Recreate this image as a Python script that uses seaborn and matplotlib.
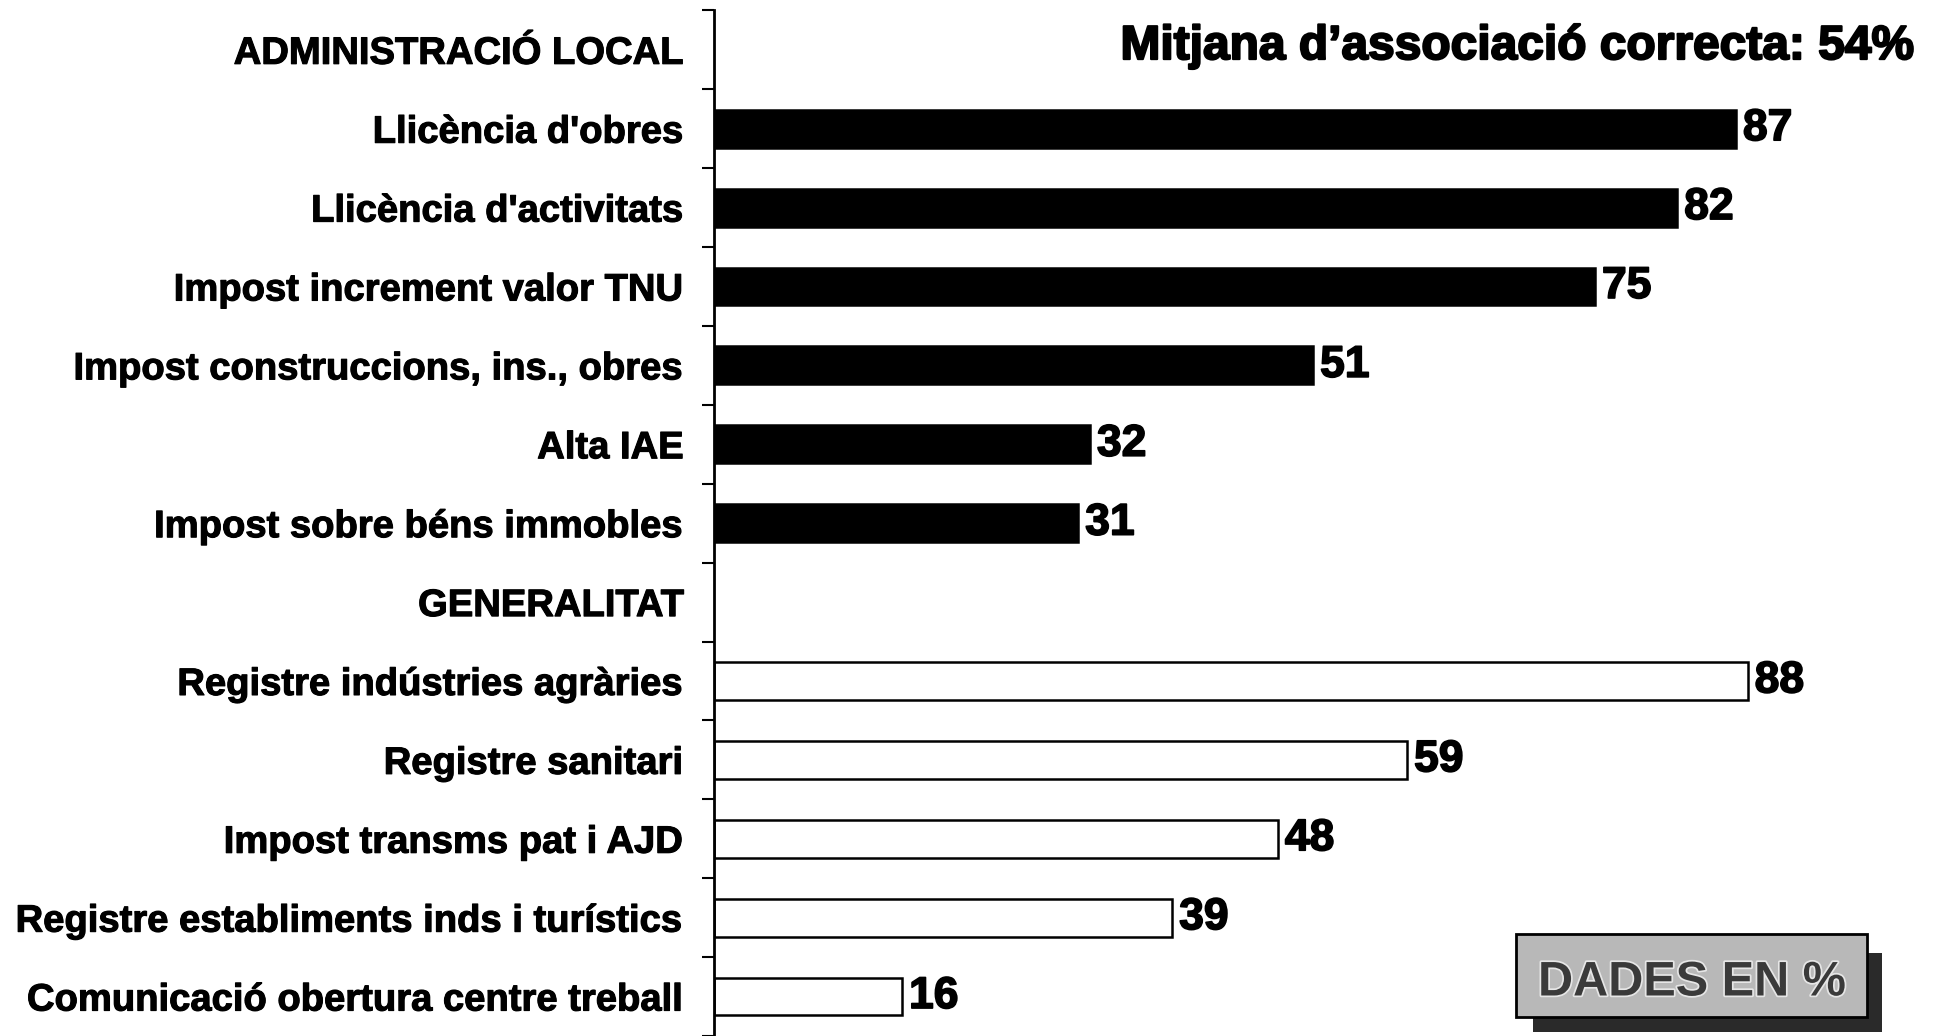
import pandas as pd
import numpy as np
import seaborn as sns
import matplotlib.pyplot as plt
import matplotlib.patheffects as pe
from matplotlib.patches import Rectangle

# data
labels = [
    "ADMINISTRACIÓ LOCAL",
    "Llicència d'obres",
    "Llicència d'activitats",
    "Impost increment valor TNU",
    "Impost construccions, ins., obres",
    "Alta IAE",
    "Impost sobre béns immobles",
    "GENERALITAT",
    "Registre indústries agràries",
    "Registre sanitari",
    "Impost transms pat i AJD",
    "Registre establiments inds i turístics",
    "Comunicació obertura centre treball",
]
values = [np.nan, 87, 82, 75, 51, 32, 31, np.nan, 88, 59, 48, 39, 16]
groups = ["local"] * 7 + ["gen"] * 6
headers = ["ADMINISTRACIÓ LOCAL", "GENERALITAT"]
title_text = "Mitjana d\u2019associació correcta: 54%"
note_text = "DADES EN %"

df = pd.DataFrame({"label": labels, "value": values, "group": groups})

sns.set_theme(style="white")
plt.rcParams["font.family"] = ["Liberation Sans", "DejaVu Sans"]

fig = plt.figure(figsize=(19.38, 10.36), dpi=100)
ax = fig.add_axes([0.3685, 0.0, 0.6315, 0.99])

sns.barplot(data=df, y="label", x="value", hue="group", order=labels,
            palette={"local": "black", "gen": "white"}, edgecolor="black",
            linewidth=1.8, dodge=False, legend=False, width=0.48, ax=ax)

heavy = [pe.withStroke(linewidth=1.2, foreground="black")]
for cont in ax.containers:
    ax.bar_label(cont, labels=[f"{v:.0f}" if not np.isnan(v) else "" for v in cont.datavalues],
                 padding=5, fontsize=32, fontweight="bold", color="black",
                 path_effects=heavy)

ax.set_xlim(0, 104.2)
ax.set_ylim(12.5, -0.5)
ax.set_xlabel("")
ax.set_ylabel("")
ax.set_xticks([])
for s in ["top", "right", "bottom"]:
    ax.spines[s].set_visible(False)
ax.spines["left"].set_color("black")
ax.spines["left"].set_linewidth(2)

ax.set_yticks(np.arange(-0.5, 13, 1), minor=True)
ax.tick_params(axis="y", which="minor", left=True, length=9, width=1.5, color="black")
ax.tick_params(axis="y", which="major", left=False, length=0, pad=22)
for t in ax.get_yticklabels():
    t.set_fontweight("bold")
    t.set_color("black")
    t.set_fontsize(27.5)
    t.set_path_effects([pe.withStroke(linewidth=0.8, foreground="black")])

fig.text(0.9876, 0.955, title_text, ha="right", va="center", fontsize=34.5,
         fontweight="bold", color="black",
         path_effects=[pe.withStroke(linewidth=1.5, foreground="black")])

# "DADES EN %" box with drop shadow
W, H = 1938, 1036
fig.patches.append(Rectangle((1533 / W, 1 - 1032 / H), 349 / W, 79 / H,
                             transform=fig.transFigure, facecolor="#2a2a2a",
                             edgecolor="none", zorder=5))
fig.patches.append(Rectangle((1516 / W, 1 - 1017 / H), 351 / W, 83 / H,
                             transform=fig.transFigure, facecolor="#b8b8b8",
                             edgecolor="black", linewidth=2, zorder=6))
fig.text(1692 / W, 1 - 983 / H, note_text, ha="center", va="center", fontsize=35,
         fontweight="bold", color="#3a3a3a", zorder=7,
         path_effects=[pe.withStroke(linewidth=2.5, foreground="#e6e6e6")])

fig.savefig("out.png", dpi=100, facecolor="white")
